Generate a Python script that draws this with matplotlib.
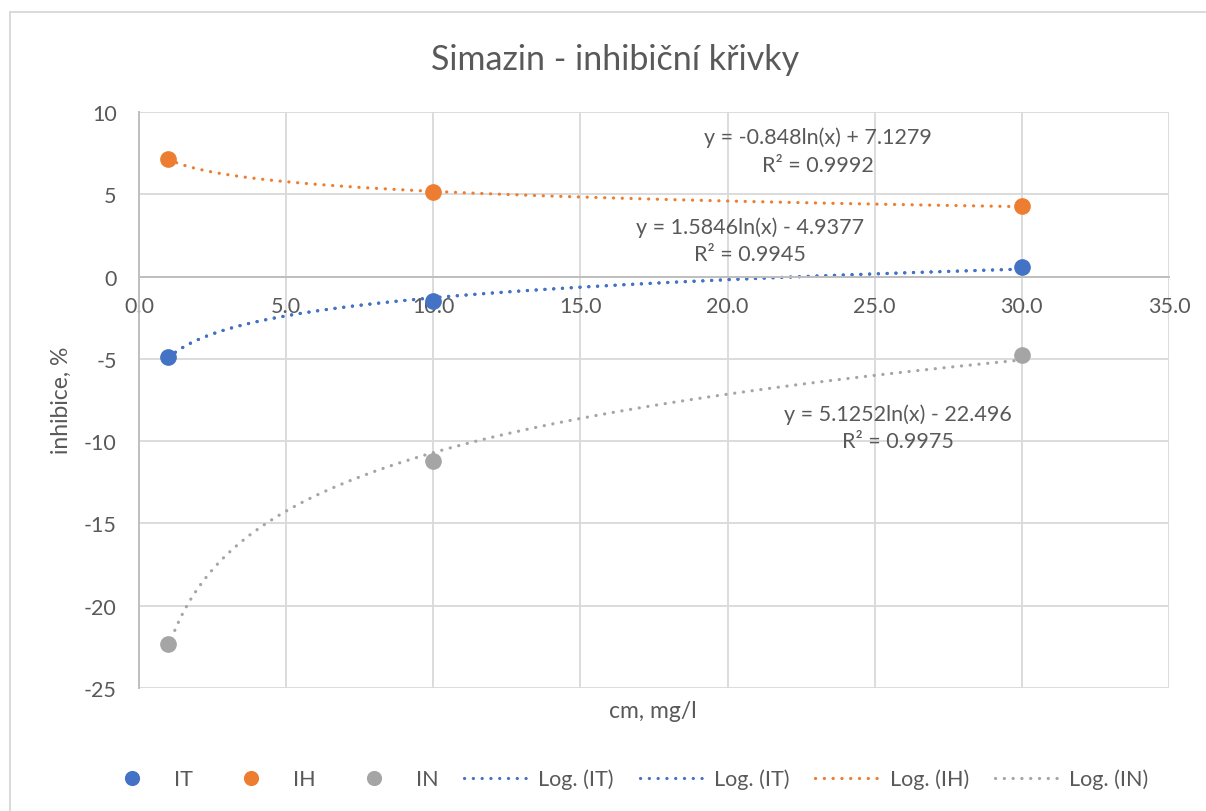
import matplotlib.pyplot as plt
from matplotlib.patches import Rectangle
import numpy as np

# data
conc = [1, 10, 30]
it_vals = [-4.88, -1.46, 0.57]
ih_vals = [7.13, 5.16, 4.26]
in_vals = [-22.34, -11.18, -4.74]

eq_it = "y = 1.5846ln(x) - 4.9377\nR² = 0.9945"
eq_ih = "y = -0.848ln(x) + 7.1279\nR² = 0.9992"
eq_in = "y = 5.1252ln(x) - 22.496\nR² = 0.9975"

xticks = [0, 5, 10, 15, 20, 25, 30, 35]
yticks = [-25, -20, -15, -10, -5, 0, 5, 10]

BLUE = "#4472C4"
ORANGE = "#ED7D31"
GREY = "#A5A5A5"
TXT = "#595959"

plt.rcParams['font.family'] = ['Lato', 'DejaVu Sans']
plt.rcParams['axes.unicode_minus'] = False


def log_fit(x, y):
	b, a = np.polyfit(np.log(x), y, 1)
	xs = np.linspace(min(x), max(x), 200)
	return xs, a + b * np.log(xs)


fig = plt.figure(figsize=(12.06, 8.12), dpi=100)
fig.add_artist(Rectangle((9.5 / 1206, -0.01), 1.1, 1 - 13 / 812 + 0.01,
						transform=fig.transFigure, fill=False,
						edgecolor="#D9D9D9", lw=1.4))
ax = fig.add_axes([139 / 1206, 1 - 689 / 812, 1030 / 1206, 576 / 812])

ax.set_xlim(0, 35)
ax.set_ylim(-25, 10)
ax.set_xticks(xticks)
ax.set_yticks(yticks)
ax.set_xticklabels(["%.1f" % t for t in xticks])
ax.grid(True, color="#D9D9D9", lw=1.3)
ax.set_axisbelow(True)
for s in ['top', 'right']:
	ax.spines[s].set_visible(False)
ax.spines['bottom'].set_position(('data', 0))
ax.spines['bottom'].set_color("#BFBFBF")
ax.spines['left'].set_color("#BFBFBF")
ax.spines['bottom'].set_linewidth(1.4)
ax.spines['left'].set_linewidth(1.4)
ax.tick_params(length=0, labelsize=15.5, colors=TXT)
ax.tick_params(axis='x', pad=14)
ax.tick_params(axis='y', pad=16)

dots = dict(linestyle=(0, (0.05, 2.7)), dash_capstyle='round', lw=2.3)

h_it, = ax.plot(conc, it_vals, 'o', color=BLUE, ms=11, label="IT", zorder=4)
h_ih, = ax.plot(conc, ih_vals, 'o', color=ORANGE, ms=11, label="IH", zorder=4)
h_in, = ax.plot(conc, in_vals, 'o', color=GREY, ms=11, label="IN", zorder=4)

xs, ys = log_fit(conc, it_vals)
t1, = ax.plot(xs, ys, color=BLUE, label="Log. (IT)", **dots)
t2, = ax.plot(xs, ys, color=BLUE, label="Log. (IT)", **dots)
xs, ys = log_fit(conc, ih_vals)
t3, = ax.plot(xs, ys, color=ORANGE, label="Log. (IH)", **dots)
xs, ys = log_fit(conc, in_vals)
t4, = ax.plot(xs, ys, color=GREY, label="Log. (IN)", **dots)

eq_style = dict(ha='center', va='center', fontsize=15.5, color=TXT, linespacing=1.45)
ax.text(23.07, 7.65, eq_ih, **eq_style)
ax.text(20.76, 2.19, eq_it, **eq_style)
ax.text(25.79, -9.17, eq_in, **eq_style)

fig.text(615 / 1206, 1 - 60 / 812, "Simazin - inhibiční křivky", ha='center', va='center',
		fontsize=24.5, color=TXT)
fig.text(653 / 1206, 1 - 712 / 812, "cm, mg/l", ha='center', va='center', fontsize=16.5, color=TXT)
fig.text(61 / 1206, 1 - 400 / 812, "inhibice, %", ha='center', va='center', fontsize=16.5,
		color=TXT, rotation=90)

leg = fig.legend(handles=[h_it, h_ih, h_in, t1, t2, t3, t4], loc='center',
				bbox_to_anchor=(624 / 1206, 1 - 780 / 812), ncol=7, frameon=False,
				fontsize=15.5, handlelength=3.0, columnspacing=1.2, handletextpad=0.45,
				markerscale=0.9)
for t in leg.get_texts():
	t.set_color(TXT)

plt.savefig("out.png", dpi=100)
